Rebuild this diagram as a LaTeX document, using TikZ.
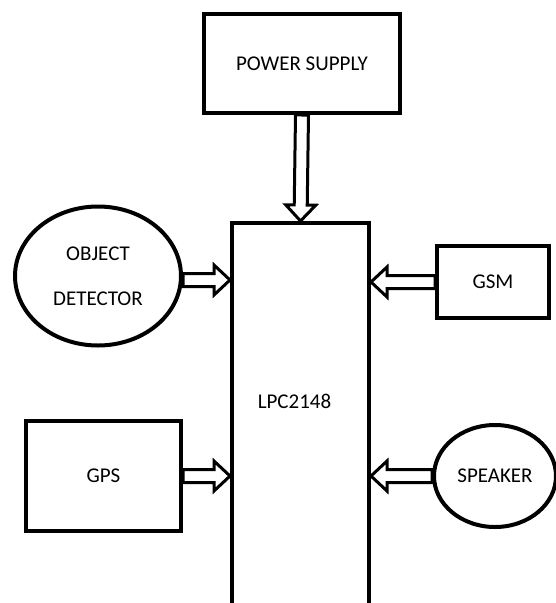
\documentclass[tikz,border=0pt]{standalone}
\usepackage{fontspec}
\setmainfont{Carlito}
\usetikzlibrary{calc,shapes.geometric}
\begin{document}
\begin{tikzpicture}[x=1pt,y=-1pt,
  lbl/.style={font=\fontsize{21}{25}\selectfont},
  box/.style={draw, line width=4pt, rectangle, inner sep=0pt, lbl},
  oval/.style={draw, line width=4pt, ellipse, inner sep=0pt, lbl},
  barrow/.style={draw, line width=3pt, fill=white, line join=miter,
    to path={
      ($(\tikztostart)!6.5pt!90:(\tikztotarget)$)
      -- ($($(\tikztotarget)!16pt!(\tikztostart)$)!6.5pt!-90:(\tikztostart)$)
      -- ($($(\tikztotarget)!16pt!(\tikztostart)$)!15pt!-90:(\tikztostart)$)
      -- (\tikztotarget)
      -- ($($(\tikztotarget)!16pt!(\tikztostart)$)!15pt!90:(\tikztostart)$)
      -- ($($(\tikztotarget)!16pt!(\tikztostart)$)!6.5pt!90:(\tikztostart)$)
      -- ($(\tikztostart)!6.5pt!-90:(\tikztotarget)$)
      -- cycle}}]
\useasboundingbox (0,0) rectangle (555,603);

\node[box, minimum width=196pt, minimum height=99pt] (ps) at (302,63.5) {POWER SUPPLY};
\node[box, minimum width=137pt, minimum height=440pt, anchor=north] (lpc) at (300.5,221) {};
\node[lbl] (lpct) at (294.5,401) {LPC2148};
\node[oval, minimum width=166pt, minimum height=139pt, align=center,
      font=\fontsize{21}{45}\selectfont] (od) at (98,276) {OBJECT\\DETECTOR};
\node[box, minimum width=112pt, minimum height=72pt] (gsm) at (493,282) {GSM};
\node[box, minimum width=155pt, minimum height=110pt] (gps) at (103.5,476) {GPS};
\node[oval, minimum width=122pt, minimum height=102pt] (spk) at (495,476) {SPEAKER};

\coordinate (odS) at ($(od.east)+(0,4)$);
\coordinate (odT) at (odS -| lpc.west);
\coordinate (gsmT) at (gsm.west -| lpc.east);
\coordinate (gpsT) at (gps.east -| lpc.west);
\coordinate (spkT) at (spk.west -| lpc.east);

\draw[barrow] (ps.south) to (lpc.north);
\draw[barrow] (odS) to (odT);
\draw[barrow] (gsm.west) to (gsmT);
\draw[barrow] (gps.east) to (gpsT);
\draw[barrow] (spk.west) to (spkT);
\end{tikzpicture}
\end{document}
